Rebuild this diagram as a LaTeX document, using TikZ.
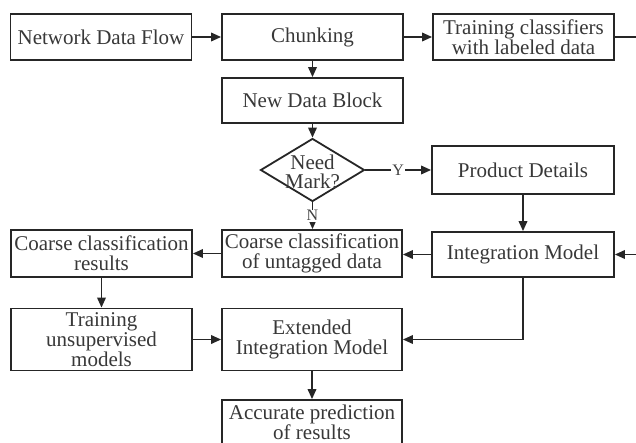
\documentclass[tikz,border=0pt]{standalone}
\usepackage{fontspec}
\setmainfont{Liberation Serif}
\usetikzlibrary{arrows.meta,shapes.geometric}
\begin{document}
\begin{tikzpicture}[x=1pt,y=-1pt,
  box/.style={draw=black!85,line width=1.8pt,rectangle,align=center,inner sep=0pt,text=black!78,font=\fontsize{21}{20}\selectfont},
  arr/.style={draw=black!85,line width=1.8pt,-{Triangle[length=10pt,width=8.5pt]}},
  ln/.style={draw=black!85,line width=1.8pt},
  lab/.style={fill=white,inner sep=1pt,text=black!75,font=\fontsize{16}{16}\selectfont},
  dtext/.style={align=center,inner sep=0pt,text=black!78,font=\fontsize{21}{19}\selectfont}]
\useasboundingbox (0,0) rectangle (636,442);
\clip (0,0) rectangle (636,442);
\fill[white] (0,0) rectangle (636,442);

\node[box,minimum width=181pt,minimum height=46pt] (ndf) at (101,37) {Network Data Flow};
\node[box,minimum width=181pt,minimum height=46pt] (chunk) at (312.5,37) {Chunking};
\node[box,minimum width=181pt,minimum height=46pt] (train) at (523.5,37) {Training classifiers\\with labeled data};
\node[box,minimum width=181pt,minimum height=45pt] (ndb) at (312.5,100.5) {New Data Block};
\node[diamond,draw=black!85,line width=1.8pt,minimum width=104pt,minimum height=63pt,inner sep=0pt] (dia) at (312.5,170) {};
\node[dtext] (diat) at (312.5,171.5) {Need\\Mark?};
\node[box,minimum width=182pt,minimum height=48pt] (pd) at (523,170) {Product Details};
\node[box,minimum width=182pt,minimum height=45pt] (im) at (523,254.5) {Integration Model};
\node[box,minimum width=180pt,minimum height=47pt] (cu) at (312,253.5) {Coarse classification\\of untagged data};
\node[box,minimum width=181pt,minimum height=47pt] (cr) at (101.5,253.5) {Coarse classification\\results};
\node[box,minimum width=181pt,minimum height=62pt] (tu) at (101.5,339.5) {Training\\unsupervised\\models};
\node[box,minimum width=180pt,minimum height=62pt] (ext) at (312,339.5) {Extended\\Integration Model};
\node[box,minimum width=180pt,minimum height=44pt] (acc) at (312,422) {Accurate prediction\\of results};

\coordinate (outR) at (640,37);
\coordinate (inR) at (640,254.5);

\draw[arr] (ndf) -- (chunk);
\draw[arr] (chunk) -- (train);
\draw[ln] (train.east) -- (outR);
\draw[arr] (chunk) -- (ndb);
\draw[arr] (ndb) -- (dia);
\draw[arr] (dia.east) -- node[lab] {Y} (pd.west);
\draw[arr] (dia.south) -- node[lab] {N} (dia.south |- cu.north);
\draw[arr] (pd) -- (im);
\draw[arr] (inR) -- (im.east);
\draw[arr] (im.west) -- (im.west -| cu.east);
\draw[arr] (cu) -- (cr);
\draw[arr] (cr) -- (tu);
\draw[arr] (tu) -- (ext);
\draw[arr] (im.south) |- (ext.east);
\draw[arr] (ext) -- (acc);
\end{tikzpicture}
\end{document}
